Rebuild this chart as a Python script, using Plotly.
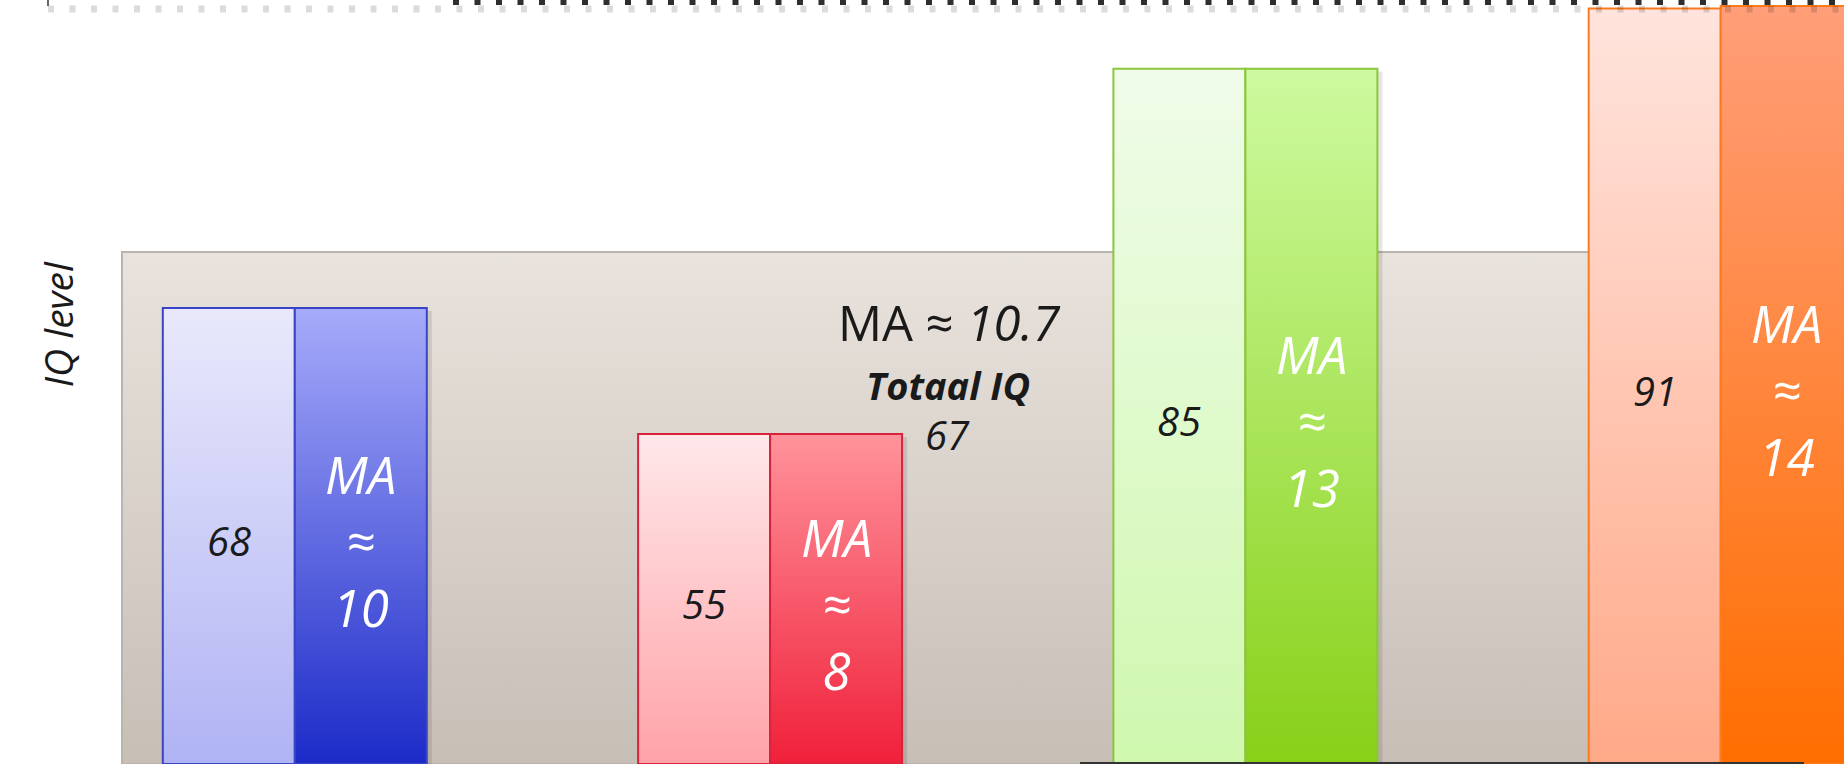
import plotly.graph_objects as go

# ---------------- data ----------------
groups = ["Blauw", "Rood", "Groen", "Oranje"]
iq_values = [68, 55, 85, 91]          # labels in the light bars
ma_values = [10, 8, 13, 14]           # mental age labels in the dark bars
iq_bar_level = [59.7, 43.2, 91.0, 98.9]   # height of light bars (0-100 scale)
ma_bar_level = [59.7, 43.2, 91.0, 99.2]   # height of dark bars (0-100 scale)
total_iq = 67                          # height of the background panel
mean_ma = 10.7
y_title = "IQ level"

# ---------------- styles ----------------
border_colors = ["#3a44c6", "#d9223c", "#8cc63c", "#ff7a1c"]
light_top = ["#e9e9fb", "#ffe8ea", "#f0fcea", "#ffe4dd"]
light_bot = ["#b0b3f4", "#ffa3a8", "#cff8ae", "#ffa988"]
dark_top = ["#a7abfa", "#ff939b", "#cdfa9f", "#ff9e79"]
dark_bot = ["#1c2bc8", "#f0203a", "#88d018", "#ff6e00"]

FONT = "Open Sans"
W, H = 1844, 764
px_per_unit_x = 475.3
first_center_px = 294.8
bar_w = 132 / px_per_unit_x
x_range = [-first_center_px / px_per_unit_x, (W - first_center_px) / px_per_unit_x]
y_range = [0, 100]


def px_to_x(p):
    return (p - first_center_px) / px_per_unit_x


def px_to_y(p):
    return (H - p) / H * 100


fig = go.Figure()

# background panel (level = total IQ)
panel_x0 = px_to_x(122)
panel_x1 = x_range[1] + 0.2
fig.add_trace(go.Scatter(
    x=[panel_x0, panel_x1, panel_x1, panel_x0, panel_x0],
    y=[0, 0, total_iq, total_iq, 0],
    fill="toself", mode="lines",
    line=dict(color="#bbb4ae", width=2),
    fillgradient=dict(type="vertical", colorscale=[[0, "#c7beb6"], [1, "#e9e3dd"]]),
    hoverinfo="skip", showlegend=False,
))

for i, g in enumerate(groups):
    c = i
    # shadow
    sh = 5 / px_per_unit_x
    top = max(iq_bar_level[i], ma_bar_level[i]) - 0.4
    fig.add_trace(go.Scatter(
        x=[c - bar_w + sh, c + bar_w + sh, c + bar_w + sh, c - bar_w + sh, c - bar_w + sh],
        y=[0, 0, top, top, 0],
        fill="toself", mode="lines", line=dict(width=0),
        fillcolor="rgba(0,0,0,0.10)", hoverinfo="skip", showlegend=False,
    ))
    # light bar (IQ)
    h = iq_bar_level[i]
    fig.add_trace(go.Scatter(
        x=[c - bar_w, c, c, c - bar_w, c - bar_w],
        y=[0, 0, h, h, 0],
        fill="toself", mode="lines",
        line=dict(color=border_colors[i], width=2),
        fillgradient=dict(type="vertical", colorscale=[[0, light_bot[i]], [1, light_top[i]]]),
        name=g + " IQ", hoverinfo="skip", showlegend=False,
    ))
    # dark bar (MA)
    h2 = ma_bar_level[i]
    fig.add_trace(go.Scatter(
        x=[c, c + bar_w, c + bar_w, c, c],
        y=[0, 0, h2, h2, 0],
        fill="toself", mode="lines",
        line=dict(color=border_colors[i], width=2),
        fillgradient=dict(type="vertical", colorscale=[[0, dark_bot[i]], [1, dark_top[i]]]),
        name=g + " MA", hoverinfo="skip", showlegend=False,
    ))
    fig.add_annotation(
        x=c - bar_w / 2, y=h / 2 - 0.6, xref="x", yref="y",
        text=f"<i>{iq_values[i]}</i>", showarrow=False,
        font=dict(family=FONT, size=40, color="#1a1a1a"),
    )
    fig.add_annotation(
        x=c + bar_w / 2, y=h2 / 2 - 0.6, xref="x", yref="y",
        text=f"<i>MA</i><br><i>≈</i><br><i>{ma_values[i]}</i>", showarrow=False,
        font=dict(family=FONT, size=51, color="#ffffff"),
    )

# central summary text
fig.add_annotation(
    x=px_to_x(949), y=px_to_y(322), xref="x", yref="y",
    text=f"MA ≈ <i>{mean_ma}</i>", showarrow=False,
    font=dict(family=FONT, size=49, color="#1a1a1a"),
)
fig.add_annotation(
    x=px_to_x(948), y=px_to_y(385), xref="x", yref="y",
    text="<b><i>Totaal IQ</i></b>", showarrow=False,
    font=dict(family=FONT, size=38, color="#1a1a1a"),
)
fig.add_annotation(
    x=px_to_x(947), y=px_to_y(434), xref="x", yref="y",
    text=f"<i>{total_iq}</i>", showarrow=False,
    font=dict(family=FONT, size=40, color="#1a1a1a"),
)

# y-axis title
fig.add_annotation(
    x=28 / W, y=1 - 325 / H, xref="paper", yref="paper",
    text=f"<i>{y_title}</i>", textangle=-90, showarrow=False,
    font=dict(family=FONT, size=39, color="#1a1a1a"),
)

# decorative dotted border at top
shapes = [
    dict(type="line", xref="paper", yref="paper", x0=48 / W, x1=1, y0=1 - 9 / H, y1=1 - 9 / H,
         line=dict(color="rgba(0,0,0,0.14)", width=7, dash="6px,15.5px")),
    dict(type="line", xref="paper", yref="paper", x0=453 / W, x1=1, y0=1 - 1.5 / H, y1=1 - 1.5 / H,
         line=dict(color="#2e2e2e", width=7, dash="6px,15.5px")),
    dict(type="line", xref="paper", yref="paper", x0=48 / W, x1=48 / W, y0=1, y1=1 - 6 / H,
         line=dict(color="#333333", width=1.5)),
    dict(type="line", xref="paper", yref="paper", x0=1080 / W, x1=1804 / W, y0=1 / H, y1=1 / H,
         line=dict(color="#333333", width=2)),
]

fig.update_layout(
    width=W, height=H,
    margin=dict(l=0, r=0, t=0, b=0),
    paper_bgcolor="white", plot_bgcolor="white",
    xaxis=dict(range=x_range, visible=False, fixedrange=True),
    yaxis=dict(range=y_range, visible=False, fixedrange=True),
    shapes=shapes,
    showlegend=False,
)

fig.write_html(
    "out.html",
    config={"displayModeBar": False},
    post_script="document.body.style.margin='0px';document.body.style.overflow='hidden';",
)
